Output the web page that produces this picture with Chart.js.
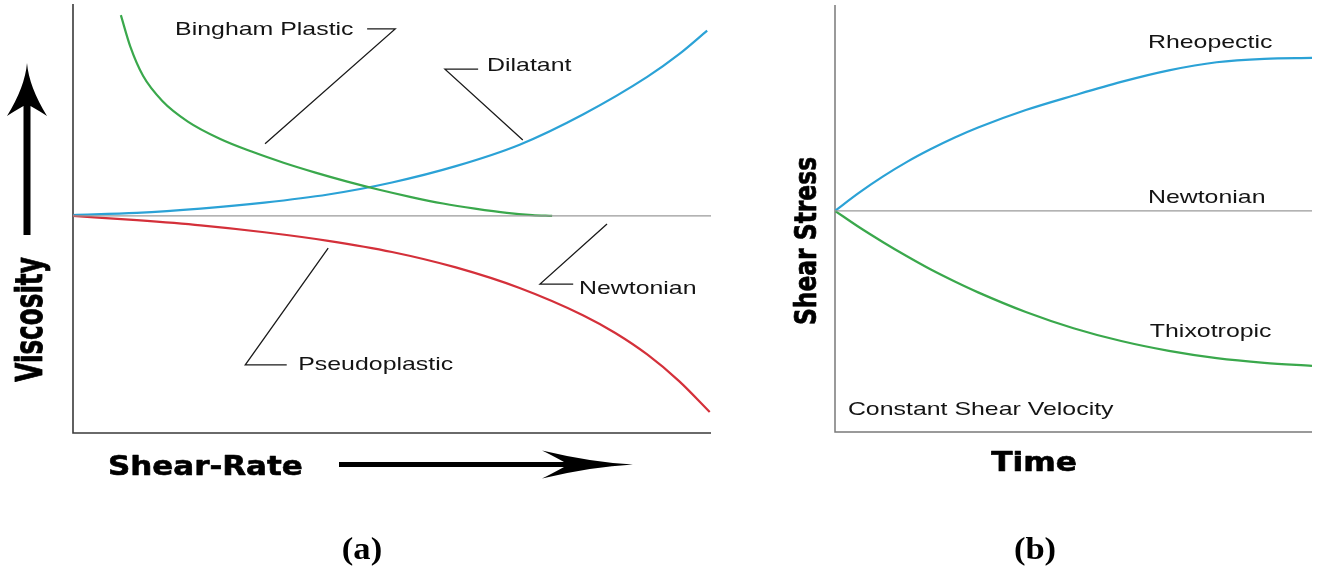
<!DOCTYPE html>
<html>
<head>
<meta charset="utf-8">
<title>Rheological behaviour of fluids</title>
<script src="https://cdn.jsdelivr.net/npm/chart.js@4/dist/chart.umd.min.js"></script>
<style>
  html, body { margin: 0; padding: 0; background: #ffffff; }
  #wrap { position: relative; width: 1325px; height: 575px; overflow: hidden; }
  canvas { position: absolute; top: 0; }
  #chartA { left: 0; }
  #chartB { left: 760px; }
</style>
</head>
<body>
<div id="wrap">
  <canvas id="chartA" width="760" height="575"></canvas>
  <canvas id="chartB" width="565" height="575"></canvas>
</div>
<script>
// ---- (a) Viscosity against shear rate (arbitrary units, 0..10 on both axes) ----
const binghamRate   = [0.75, 0.9, 1.1, 1.4, 1.8, 2.3, 2.8, 3.3, 3.8, 4.3, 4.8, 5.3, 5.8, 6.3, 6.8, 7.2, 7.51];
const binghamVisc   = [9.74, 9.00, 8.32, 7.74, 7.26, 6.86, 6.56, 6.30, 6.07, 5.86, 5.67, 5.50, 5.35, 5.23, 5.13, 5.08, 5.06];
const dilatantRate  = [0, 1, 2, 3, 4, 5, 6, 7, 8, 9, 9.5, 9.94];
const dilatantVisc  = [5.08, 5.13, 5.23, 5.37, 5.56, 5.84, 6.22, 6.72, 7.43, 8.30, 8.83, 9.38];
const pseudoRate    = [0, 1, 2, 3, 4, 5, 6, 7, 8, 8.5, 9, 9.5, 9.98];
const pseudoVisc    = [5.06, 4.96, 4.84, 4.68, 4.48, 4.22, 3.86, 3.38, 2.74, 2.33, 1.83, 1.21, 0.49];
const newtonRateA   = [0, 10];
const newtonViscA   = [5.06, 5.06];

// ---- (b) Shear stress against time at constant shear velocity ----
const rheoTime      = [0, 0.5, 1, 1.5, 2, 2.5, 3, 4, 5, 6, 7, 8, 9, 10];
const rheoStress    = [5.18, 5.60, 5.98, 6.32, 6.62, 6.89, 7.13, 7.54, 7.88, 8.20, 8.47, 8.66, 8.74, 8.76];
const thixoTime     = [0, 0.5, 1, 1.5, 2, 2.5, 3, 4, 5, 6, 7, 8, 9, 10];
const thixoStress   = [5.18, 4.80, 4.45, 4.12, 3.81, 3.53, 3.27, 2.81, 2.43, 2.13, 1.90, 1.73, 1.62, 1.55];
const newtonTimeB   = [0, 10];
const newtonStressB = [5.18, 5.18];

// Curve names written next to the curves
const namesA = ['Bingham Plastic', 'Dilatant', 'Newtonian', 'Pseudoplastic'];
const namesB = ['Rheopectic', 'Newtonian', 'Thixotropic', 'Constant Shear Velocity'];

// Where each name sits (left edge, vertical centre) in axis units
const namePosA = [[1.60, 9.39], [6.49, 8.55], [7.93, 3.36], [3.53, 1.59]];
const namePosB = [[6.56, 9.11], [6.56, 5.48], [6.60, 2.34], [0.27, 0.52]];

// Call-out lines from each name to its curve, in axis units
const leadersA = [
  [[3.01, 6.74], [5.05, 9.42], [4.61, 9.42]],
  [[7.05, 6.83], [5.83, 8.48], [6.35, 8.48]],
  [[8.37, 4.87], [7.32, 3.47], [7.84, 3.47]],
  [[4.00, 4.31], [2.70, 1.59], [3.35, 1.59]]
];

const GREEN = '#3aa84c';
const BLUE  = '#2ba2d6';
const RED   = '#d4303a';
const GREY  = '#9a9a9a';

const NAME_FONT = '19px "Liberation Sans", Arial, sans-serif';
const NAME_STRETCH = 1.31;
const HEAVY_FONT = 'bold 26px "DejaVu Sans", "Liberation Sans", sans-serif';
const PANEL_FONT = 'bold 32px "Liberation Serif", "Times New Roman", serif';

function pairs(xs, ys) { return xs.map((x, i) => ({ x: x, y: ys[i] })); }

function curve(xs, ys, color, width) {
  return {
    data: pairs(xs, ys),
    borderColor: color,
    borderWidth: width,
    pointRadius: 0,
    fill: false,
    cubicInterpolationMode: 'monotone'
  };
}

function text(ctx, str, x, y, o) {
  ctx.save();
  ctx.translate(x, y);
  if (o.rotate) ctx.rotate(o.rotate);
  ctx.scale(o.sx || 1, o.sy || 1);
  ctx.font = o.font;
  ctx.textAlign = o.align || 'left';
  ctx.textBaseline = o.baseline || 'alphabetic';
  ctx.fillStyle = o.color || '#111111';
  ctx.fillText(str, 0, 0);
  if (o.stroke) {
    ctx.lineJoin = 'round';
    ctx.lineWidth = o.stroke;
    ctx.strokeStyle = o.color || '#111111';
    ctx.strokeText(str, 0, 0);
  }
  ctx.restore();
}

function axesPlugin(color, width) {
  return {
    id: 'axesLines',
    beforeDatasetsDraw(chart) {
      const { ctx, chartArea: a } = chart;
      ctx.save();
      ctx.strokeStyle = color;
      ctx.lineWidth = width;
      ctx.beginPath();
      ctx.moveTo(a.left, a.top);
      ctx.lineTo(a.left, a.bottom);
      ctx.lineTo(a.right, a.bottom);
      ctx.stroke();
      ctx.restore();
    }
  };
}

function namesPlugin(names, positions, leaders) {
  return {
    id: 'curveNames',
    afterDatasetsDraw(chart) {
      const { ctx, scales: { x, y } } = chart;
      ctx.save();
      if (leaders) {
        ctx.strokeStyle = '#1a1a1a';
        ctx.lineWidth = 1.3;
        leaders.forEach(pts => {
          ctx.beginPath();
          pts.forEach((p, i) => {
            const px = x.getPixelForValue(p[0]);
            const py = y.getPixelForValue(p[1]);
            if (i === 0) ctx.moveTo(px, py); else ctx.lineTo(px, py);
          });
          ctx.stroke();
        });
      }
      names.forEach((n, i) => {
        text(ctx, n, x.getPixelForValue(positions[i][0]), y.getPixelForValue(positions[i][1]),
             { font: NAME_FONT, sx: NAME_STRETCH, baseline: 'middle', color: '#141414' });
      });
      ctx.restore();
    }
  };
}

// Arrow with a swept-back head, drawn along +x from (0,0); length to tip L
function sweptArrow(ctx, L, shaft, headLen, headHalf, back) {
  ctx.beginPath();
  ctx.moveTo(0, -shaft / 2);
  ctx.lineTo(L - headLen + back, -shaft / 2);
  ctx.quadraticCurveTo(L - headLen + back * 0.4, -headHalf * 0.7, L - headLen, -headHalf);
  ctx.quadraticCurveTo(L - headLen * 0.45, -2, L, 0);
  ctx.quadraticCurveTo(L - headLen * 0.45, 2, L - headLen, headHalf);
  ctx.quadraticCurveTo(L - headLen + back * 0.4, headHalf * 0.7, L - headLen + back, shaft / 2);
  ctx.lineTo(0, shaft / 2);
  ctx.closePath();
  ctx.fill();
}

const decorA = {
  id: 'decorA',
  afterDraw(chart) {
    const ctx = chart.ctx;
    ctx.save();
    ctx.fillStyle = '#000000';
    // upward arrow beside the viscosity title
    ctx.save();
    ctx.translate(27, 235);
    ctx.rotate(-Math.PI / 2);
    sweptArrow(ctx, 172, 7, 53, 20, 10);
    ctx.restore();
    // rightward arrow after the shear-rate title
    ctx.save();
    ctx.translate(339, 464.5);
    sweptArrow(ctx, 294, 5, 91, 14, 22);
    ctx.restore();
    ctx.restore();

    text(ctx, 'Viscosity', 42, 319.5, { font: HEAVY_FONT, rotate: -Math.PI / 2, sx: 0.95, sy: 1.40,
         align: 'center', color: '#000000', stroke: 0.6 });
    text(ctx, 'Shear-Rate', 108, 474.5, { font: HEAVY_FONT, sx: 1.19, color: '#000000', stroke: 0.6 });
    text(ctx, '(a)', 362, 551, { font: PANEL_FONT, sx: 1.08, align: 'center', baseline: 'middle', color: '#000000' });
  }
};

const decorB = {
  id: 'decorB',
  afterDraw(chart) {
    const ctx = chart.ctx;
    const off = 760;
    text(ctx, 'Shear Stress', 816 - off, 241, { font: HEAVY_FONT, rotate: -Math.PI / 2, sx: 0.90, sy: 1.18,
         align: 'center', color: '#000000', stroke: 0.6 });
    text(ctx, 'Time', 1034 - off, 470.5, { font: HEAVY_FONT, sx: 1.2, align: 'center', color: '#000000', stroke: 0.6 });
    text(ctx, '(b)', 1035 - off, 551, { font: PANEL_FONT, sx: 1.08, align: 'center', baseline: 'middle', color: '#000000' });
  }
};

function hiddenScales() {
  return {
    x: { type: 'linear', min: 0, max: 10, display: false },
    y: { type: 'linear', min: 0, max: 10, display: false }
  };
}

const common = {
  responsive: false,
  animation: false,
  devicePixelRatio: 1,
  plugins: { legend: { display: false }, tooltip: { enabled: false } },
  elements: { point: { radius: 0 } }
};

function build() {
  new Chart(document.getElementById('chartA'), {
    type: 'line',
    data: {
      datasets: [
        curve(newtonRateA, newtonViscA, GREY, 1.3),
        curve(pseudoRate, pseudoVisc, RED, 2.2),
        curve(binghamRate, binghamVisc, GREEN, 2.2),
        curve(dilatantRate, dilatantVisc, BLUE, 2.2)
      ]
    },
    options: Object.assign({}, common, {
      layout: { padding: { left: 73, top: 4, right: 49, bottom: 142 } },
      scales: hiddenScales()
    }),
    plugins: [axesPlugin('#3a3a3a', 1.6), namesPlugin(namesA, namePosA, leadersA), decorA]
  });

  new Chart(document.getElementById('chartB'), {
    type: 'line',
    data: {
      datasets: [
        curve(newtonTimeB, newtonStressB, GREY, 1.3),
        curve(thixoTime, thixoStress, GREEN, 2.2),
        curve(rheoTime, rheoStress, BLUE, 2.2)
      ]
    },
    options: Object.assign({}, common, {
      layout: { padding: { left: 75, top: 5, right: 13, bottom: 143 } },
      scales: hiddenScales()
    }),
    plugins: [axesPlugin('#7a7a7a', 1.5), namesPlugin(namesB, namePosB, null), decorB]
  });
}

const fontsReady = document.fonts && document.fonts.load
  ? Promise.all([NAME_FONT, HEAVY_FONT, PANEL_FONT].map(f => document.fonts.load(f, '(ab)'))).catch(() => null)
  : Promise.resolve();
fontsReady.then(build, build);
</script>
</body>
</html>
